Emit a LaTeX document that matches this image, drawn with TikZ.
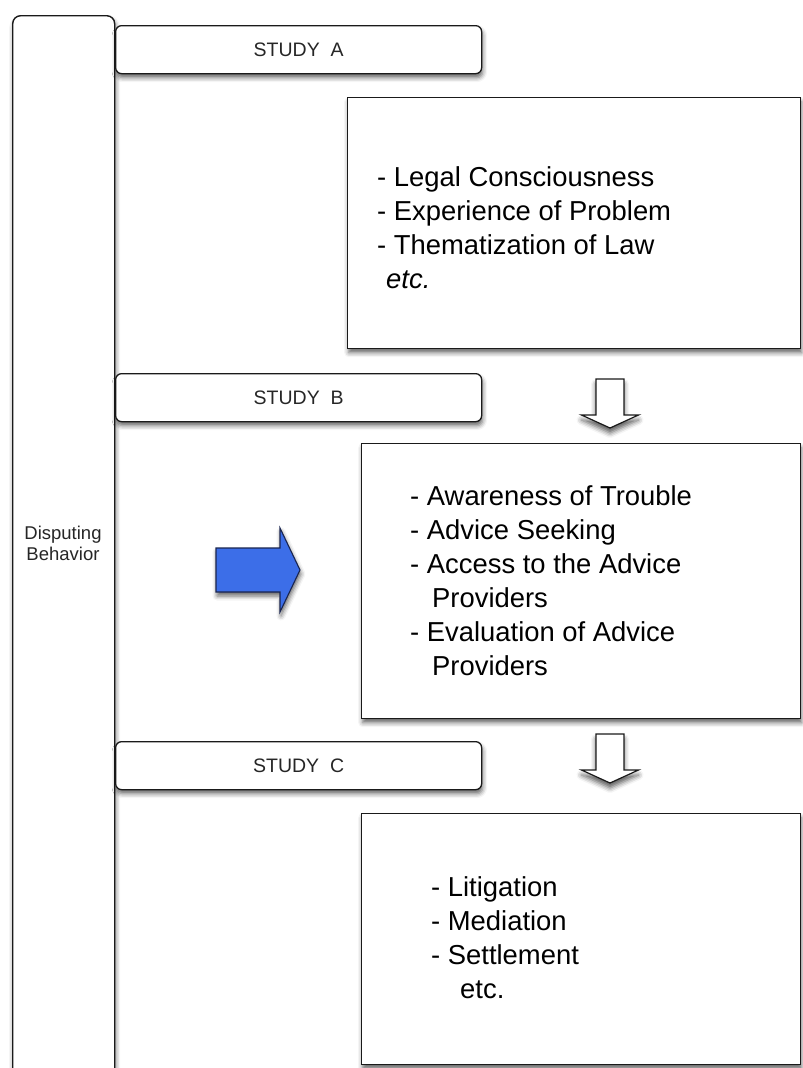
\documentclass[tikz,border=0pt]{standalone}
\usepackage{fontspec}
\setmainfont{Liberation Sans}
\usetikzlibrary{shadows.blur}
\definecolor{edge}{HTML}{1A1A1A}
\definecolor{labelgray}{HTML}{262626}
\definecolor{arrowblue}{HTML}{3C6EE8}
\definecolor{arrowedge}{HTML}{1A2550}
\tikzset{
  softshadow/.style={blur shadow={shadow xshift=1pt, shadow yshift=-4pt,
      shadow blur radius=4.5pt, shadow opacity=60}},
  sidebar/.style={draw=edge, line width=1.4pt, fill=white, rounded corners=8pt,
      softshadow, anchor=north west, inner sep=0pt},
  sidelabel/.style={align=center, inner sep=0pt,
      font=\fontsize{18.5}{21}\selectfont, text=labelgray},
  studybox/.style={draw=edge, line width=1.3pt, fill=white, rounded corners=6pt,
      softshadow, minimum width=366, minimum height=48, anchor=north west,
      inner sep=0pt},
  studylabel/.style={inner sep=0pt, font=\fontsize{19.5}{22}\selectfont,
      text=labelgray},
  itembox/.style={draw=edge, line width=1.4pt, fill=white, softshadow,
      anchor=north west, inner sep=0pt},
  itemtext/.style={anchor=north west, inner sep=0pt, align=left,
      font=\fontsize{27.4}{34}\selectfont},
  hollowarrow/.style={draw=edge, line width=1.2pt, fill=white, line join=miter,
      blur shadow={shadow xshift=0pt, shadow yshift=-5pt,
      shadow blur radius=5pt, shadow opacity=65}},
  bluearrow/.style={draw=arrowedge, line width=1.1pt, fill=arrowblue,
      line join=miter, softshadow},
  downarrow/.pic={
    \path[hollowarrow] (-14,0) -- (14,0) -- (14,-36) -- (28.5,-36) -- (0,-49)
      -- (-28.5,-36) -- (-14,-36) -- cycle;
  }
}
\begin{document}
\begin{tikzpicture}[x=1pt, y=1pt]
  \useasboundingbox (0,0) rectangle (803,-1068);
  \clip (0,0) rectangle (803,-1068);

  % tall frame on the left
  \node[sidebar, minimum width=102, minimum height=1080] (side) at (12,-15) {};
  \node[sidelabel] (sidetext) at (63,-543) {Disputing\\Behavior};

  % study headers
  \node[studybox] (studyA) at (115,-25) {};
  \node[studylabel] (studyAtext) at (studyA.center) {STUDY~ A};
  \node[studybox] (studyB) at (115,-373) {};
  \node[studylabel] (studyBtext) at (studyB.center) {STUDY~ B};
  \node[studybox] (studyC) at (115,-741) {};
  \node[studylabel] (studyCtext) at (studyC.center) {STUDY~ C};

  % content boxes
  \node[itembox, minimum width=453, minimum height=251] (boxA) at (347,-97) {};
  \node[itemtext] (listA) at (377,-166)
    {- Legal Consciousness\\- Experience of Problem\\- Thematization of Law\\\hspace*{9pt}\textit{etc.}};

  \node[itembox, minimum width=439, minimum height=275] (boxB) at (361,-443) {};
  \node[itemtext] (listB) at (410,-485.5)
    {- Awareness of Trouble\\- Advice Seeking\\- Access to the Advice\\\hspace*{22pt}Providers\\- Evaluation of Advice\\\hspace*{22pt}Providers};

  \node[itembox, minimum width=439, minimum height=251] (boxC) at (361,-813) {};
  \node[itemtext] (listC) at (431,-876)
    {- Litigation\\- Mediation\\- Settlement\\\hspace*{29pt}etc.};

  % hollow arrows between the content boxes
  \pic at (610,-379) {downarrow};
  \pic at (610,-734) {downarrow};

  % blue arrow pointing into the middle box
  \path[bluearrow] (216,-548) -- (280,-548) -- (280,-528) -- (300,-570)
    -- (280,-612) -- (280,-592) -- (216,-592) -- cycle;
\end{tikzpicture}
\end{document}
